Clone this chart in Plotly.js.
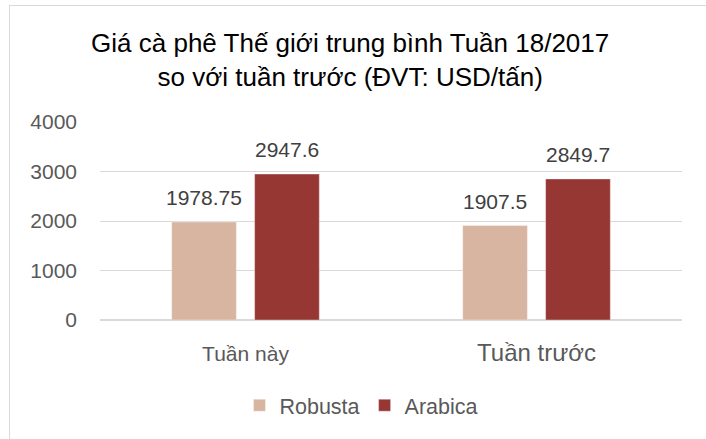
<!DOCTYPE html>
<html><head><meta charset="utf-8">
<script src="https://cdn.plot.ly/plotly-3.0.1.min.js"></script>
<style>
html,body{margin:0;padding:0;background:#fff;overflow:hidden}
#frame{position:absolute;left:9px;top:5px;width:800px;height:600px;border:1px solid #d9d9d9;box-sizing:border-box}
#chart{position:absolute;left:0;top:0;width:706px;height:439px}
</style></head>
<body>
<div id="frame"></div>
<div id="chart"></div>
<script>
const categories = ["Tuần này", "Tuần trước"];
const categoryLabels = ["Tuần này", "<span style='font-size:24px'>Tuần trước</span>"];
const robusta = [1978.75, 1907.5];
const arabica = [2947.6, 2849.7];
const seriesNames = ["Robusta", "Arabica"];
const yTicks = [0, 1000, 2000, 3000, 4000];

const colors = ["#D7B5A1", "#973733"];
const traces = [robusta, arabica].map((vals, i) => ({
  type: "bar", name: seriesNames[i], x: categories, y: vals,
  marker: {color: colors[i], line: {color: "rgba(255,255,255,0.35)", width: 1}},
  hoverinfo: "none"
}));

const annotations = [];
[robusta, arabica].forEach((vals, i) => {
  vals.forEach((v, j) => {
    annotations.push({
      xref: "x", yref: "y", x: categories[j], y: v,
      xshift: i === 0 ? -41.5 : 41.5, yshift: 11,
      yanchor: "bottom", text: String(v), showarrow: false,
      font: {family: "Liberation Sans, Arial, sans-serif", size: 21, color: "#404040"}
    });
  });
});

const layout = {
  width: 706, height: 439,
  paper_bgcolor: "rgba(0,0,0,0)", plot_bgcolor: "rgba(0,0,0,0)",
  margin: {l: 100, r: 24, t: 122, b: 119},
  title: {
    text: "Giá cà phê Thế giới trung bình Tuần 18/2017<br>so với tuần trước (ĐVT: USD/tấn)",
    x: 0.496, xanchor: "center", y: 0.882, yanchor: "middle",
    font: {family: "Liberation Sans, Arial, sans-serif", size: 26, color: "#000"}
  },
  barmode: "group", bargap: 0.43, bargroupgap: 0.22,
  xaxis: {
    tickvals: categories, ticktext: categoryLabels,
    showgrid: false, zeroline: false, showline: false, ticks: "",
    ticklabelstandoff: 19,
    tickfont: {family: "Liberation Sans, Arial, sans-serif", size: 21, color: "#595959"}
  },
  yaxis: {
    range: [0, 4000], tickvals: yTicks, ticktext: yTicks.map(String),
    showgrid: true, gridcolor: "#d9d9d9", gridwidth: 1,
    zeroline: true, zerolinecolor: "#d9d9d9", zerolinewidth: 1.5,
    showline: false, ticks: "", ticklabelstandoff: 22,
    tickfont: {family: "Liberation Sans, Arial, sans-serif", size: 21, color: "#595959"}
  },
  showlegend: true,
  legend: {
    orientation: "h", xref: "container", yref: "container",
    x: 0.512, xanchor: "center", y: 0.077, yanchor: "middle",
    font: {family: "Liberation Sans, Arial, sans-serif", size: 21.5, color: "#595959"},
    itemwidth: 30, tracegroupgap: 0
  },
  annotations: annotations
};

Plotly.newPlot("chart", traces, layout, {displayModeBar: false, staticPlot: true});
</script>
</body></html>
